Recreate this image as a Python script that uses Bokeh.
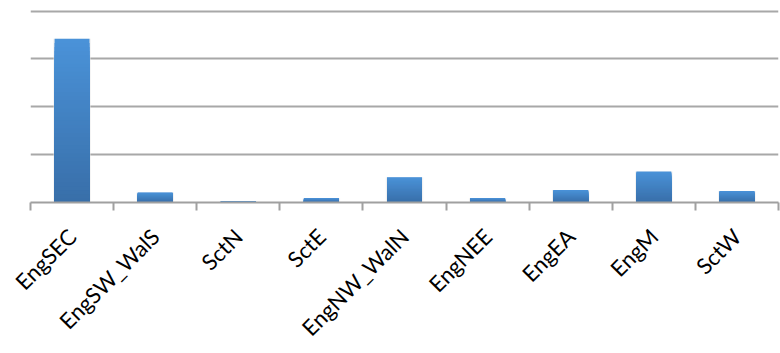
import math
import numpy as np
from bokeh.plotting import figure
from bokeh.models import Range1d, FixedTicker, ColumnDataSource
from bokeh.embed import file_html
from bokeh.resources import INLINE

# Regions and their values
regions = ["EngSEC", "EngSW_WalS", "SctN", "SctE", "EngNW_WalN",
           "EngNEE", "EngEA", "EngM", "SctW"]
values = [3.42, 0.21, 0.02, 0.09, 0.53, 0.09, 0.26, 0.65, 0.24]
grid_levels = [1, 2, 3, 4]

BAR_WIDTH = 0.42
N_SLICES = 40
TOP_RGB = np.array([0x4a, 0x92, 0xd8])
BOTTOM_RGB = np.array([0x38, 0x6e, 0xa8])

p = figure(width=780, height=353, output_backend="svg", toolbar_location=None,
           x_range=Range1d(0, len(regions)), y_range=Range1d(0, 4.2),
           min_border_left=30, min_border_right=2, min_border_top=1,
           min_border_bottom=150)
p.outline_line_color = None
p.background_fill_color = "white"
p.border_fill_color = "white"

# soft shadow around the bars
centres = [i + 0.5 for i in range(len(regions))]
shadow = ColumnDataSource(dict(x=centres, top=values))
p.vbar(x="x", top="top", width=BAR_WIDTH + 0.03, source=shadow,
       fill_color="#e8e8e8", line_color=None, fill_alpha=0.6)

# Each bar gets a vertical gradient (darker base, lighter top): nested
# rectangles from the base, tallest first, so the slices never leave gaps
lefts, rights, bottoms, tops, colors = [], [], [], [], []
for k in reversed(range(N_SLICES)):
    t = (k + 1) / N_SLICES
    rgb = BOTTOM_RGB + (TOP_RGB - BOTTOM_RGB) * t
    col = "#%02x%02x%02x" % tuple(int(round(c)) for c in rgb)
    for cx, v in zip(centres, values):
        lefts.append(cx - BAR_WIDTH / 2)
        rights.append(cx + BAR_WIDTH / 2)
        bottoms.append(0)
        tops.append(v * t)
        colors.append(col)

src = ColumnDataSource(dict(left=lefts, right=rights, bottom=bottoms, top=tops, color=colors))
p.quad(left="left", right="right", bottom="bottom", top="top", source=src,
       fill_color="color", line_color=None)

# y axis: only the gridlines are shown
p.yaxis.visible = False
p.ygrid.ticker = FixedTicker(ticks=grid_levels)
p.ygrid.grid_line_color = "#a8a8a8"
p.ygrid.grid_line_width = 2
p.xgrid.visible = False

# x axis: names at category centres, tick marks at category boundaries
xax = p.xaxis[0]
xax.ticker = FixedTicker(ticks=centres, minor_ticks=list(range(len(regions) + 1)))
xax.major_label_overrides = {c: name for c, name in zip(centres, regions)}
xax.major_tick_line_color = None
xax.minor_tick_line_color = "#a0a0a0"
xax.minor_tick_line_width = 2
xax.minor_tick_in = 0
xax.minor_tick_out = 8
xax.axis_line_color = "#a0a0a0"
xax.axis_line_width = 2
xax.major_label_orientation = math.pi / 4
xax.major_label_standoff = 22
xax.major_label_text_font = "Lato"
xax.major_label_text_font_size = "22px"
xax.major_label_text_color = "#000000"

open("out.html", "w").write(file_html(p, INLINE))
